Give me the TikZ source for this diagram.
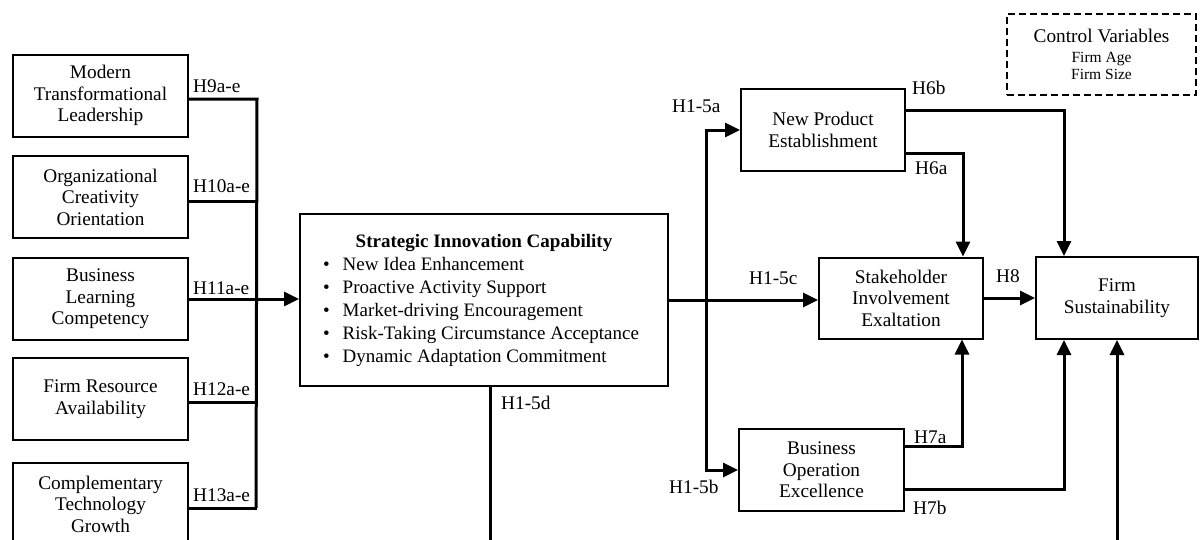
\documentclass[tikz,border=0pt]{standalone}
\usepackage{fontspec}
\setmainfont{Liberation Serif}
\usetikzlibrary{arrows.meta,calc}
\begin{document}
\begin{tikzpicture}[x=1pt,y=-1pt,
  box/.style={draw,line width=2pt,align=center,inner sep=2pt,font=\fontsize{19.3}{21.5}\selectfont},
  conn/.style={line width=3pt},
  arr/.style={conn,-{Triangle[length=15pt,width=14pt]}},
  lab/.style={anchor=base west,inner sep=0pt,font=\fontsize{19.3}{21}\selectfont}]
\clip (0,0) rectangle (1200,539);
\fill[white] (0,0) rectangle (1200,539);
% left boxes
\node[box,minimum width=175,minimum height=82] (m1) at (100.5,96) {\raisebox{-2pt}{\begin{tabular}{@{}c@{}}Modern\\Transformational\\Leadership\end{tabular}}};
\node[box,minimum width=175,minimum height=82] (m2) at (100.5,197) {Organizational\\Creativity\\Orientation};
\node[box,minimum width=175,minimum height=82] (m3) at (100.5,299) {Business\\Learning\\Competency};
\node[box,minimum width=175,minimum height=82] (m4) at (100.5,399) {Firm Resource\\Availability};
\node[box,minimum width=175,minimum height=82] (m5) at (100.5,504) {Complementary\\Technology\\Growth};
% central box
\node[box,minimum width=368,minimum height=172,font=\fontsize{19}{23}\selectfont] (sic) at (484,300)
 {\raisebox{2pt}{\begin{tabular}{@{}c@{\hspace{13pt}}l@{\hspace{6pt}}}
  \multicolumn{2}{c}{\textbf{Strategic Innovation Capability}\hspace{2pt}}\\
  \textbullet & New Idea Enhancement\\
  \textbullet & Proactive Activity Support\\
  \textbullet & Market-driving Encouragement\\
  \textbullet & Risk-Taking Circumstance Acceptance\\
  \textbullet & Dynamic Adaptation Commitment
  \end{tabular}}};
% right boxes
\node[box,minimum width=164,minimum height=82] (npe) at (823,130) {New Product\\Establishment};
\node[box,minimum width=164,minimum height=81] (sie) at (901,298) {Stakeholder\\Involvement\\Exaltation};
\node[box,minimum width=162,minimum height=82] (fs) at (1117,298) {Firm\\Sustainability};
\node[box,minimum width=165,minimum height=82] (boe) at (821.5,470) {Business\\Operation\\Excellence};
\node[draw,line width=2pt,dash pattern=on 7pt off 4pt,minimum width=189,minimum height=81,align=center,inner sep=2pt,font=\fontsize{15.5}{17}\selectfont] (cv) at (1101.5,54.5)
 {{\fontsize{19.3}{20}\selectfont Control Variables}\\[3pt]Firm Age\\Firm Size};
% coordinates
\coordinate (rb) at (706,0);
\coordinate (d1) at (490,548);
\coordinate (d2) at (1117,548);
% left bus
\draw[conn] ($(m1.east)+(0,3)$) -- ++(68,0) -- (256,508);
\draw[conn] ($(m2.east)+(0,4)$) -- ++(68,0);
\draw[arr] (m3.east) -- (m3.east -| sic.west);
\draw[conn] ($(m4.east)+(0,3)$) -- ++(68,0);
\draw[conn] ($(m5.east)+(0,4)$) -- ++(68,0);
% central outputs
\draw[arr] (sic.east) -- (sic.east -| sie.west);
\draw[arr] (sic.east -| rb) |- (npe.west);
\draw[arr] (sic.east -| rb) |- (boe.west);
\draw[conn] ($(sic.south)+(6,0)$) -- (d1);
% NPE outputs
\draw[arr] ($(npe.east)+(0,-20)$) -| ($(fs.north)+(-53,0)$);
\draw[arr] ($(npe.east)+(0,23)$) -| ($(sie.north)+(62,0)$);
% H8
\draw[arr] (sie.east) -- (fs.west);
% BOE outputs
\draw[arr] ($(boe.east)+(0,-24)$) -| ($(sie.south)+(61,0)$);
\draw[arr] ($(boe.east)+(0,19)$) -| ($(fs.south)+(-53,0)$);
\draw[arr] (d2) -- (fs.south);
% labels
\node[lab] (l9) at (193,92) {H9a-e};
\node[lab] (l10) at (193,192) {H10a-e};
\node[lab] (l11) at (193,294) {H11a-e};
\node[lab] (l12) at (193,395) {H12a-e};
\node[lab] (l13) at (193,501) {H13a-e};
\node[lab] (la) at (672,112) {H1-5a};
\node[lab] (lb) at (669,493) {H1-5b};
\node[lab] (lc) at (749,284) {H1-5c};
\node[lab] (ld) at (501,409) {H1-5d};
\node[lab] (l6b) at (912,94) {H6b};
\node[lab] (l6a) at (915,174) {H6a};
\node[lab] (l7a) at (914,443) {H7a};
\node[lab] (l7b) at (913,514) {H7b};
\node[lab] (l8) at (996,282) {H8};
\end{tikzpicture}
\end{document}
